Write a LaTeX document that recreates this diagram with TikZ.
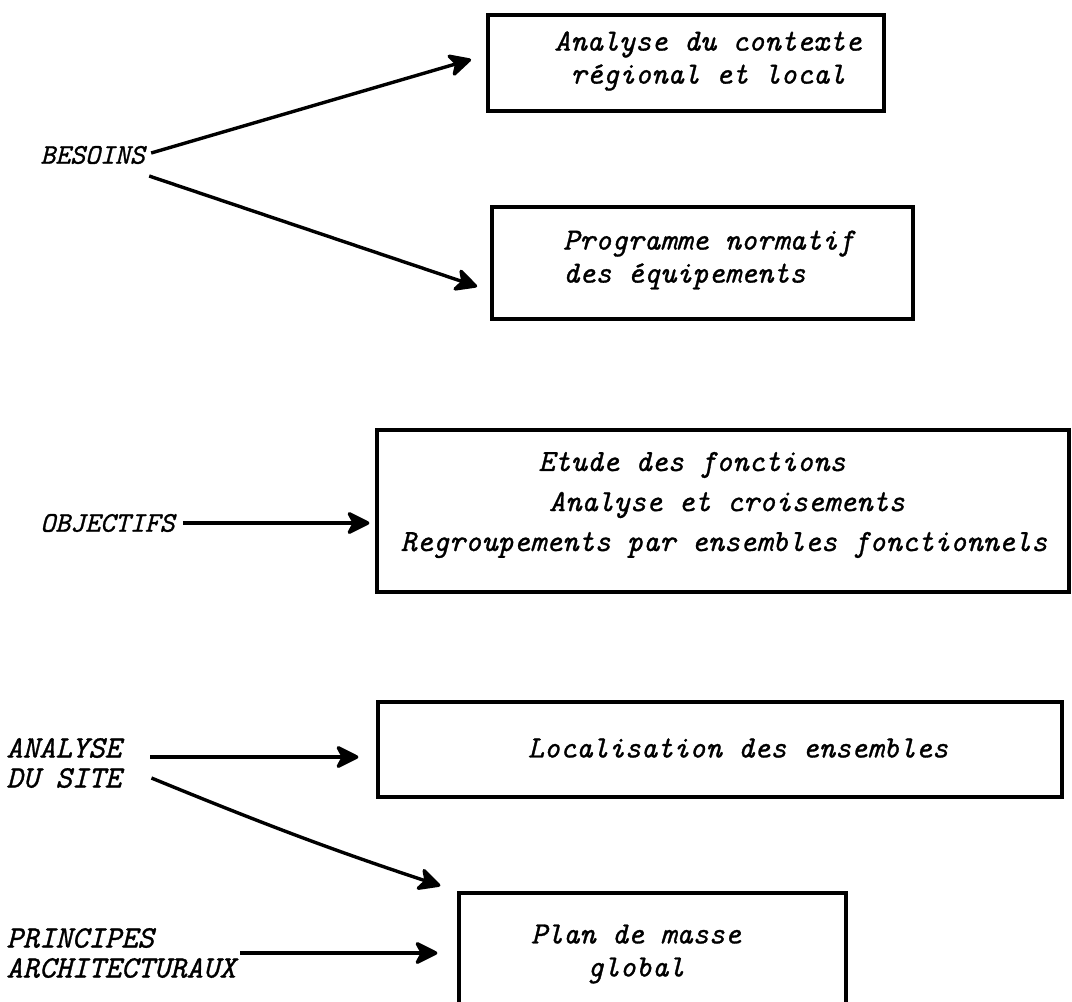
\documentclass[tikz,border=0pt]{standalone}
\usepackage{fontspec}
\newfontfamily\typewriter{Latin Modern Mono}[ItalicFeatures = {FakeBold = 1}]
\usetikzlibrary{arrows.meta}

\tikzset{
  box/.style = {draw, line width = 1.6pt, inner sep = 0pt},
  boxtext/.style = {font = \typewriter\itshape\fontsize{15.4}{16.5}\selectfont, align = center},
  side/.style = {font = \typewriter\itshape\fontsize{15.6}{15}\selectfont, inner sep = 2pt, anchor = west},
  small/.style = {font = \typewriter\itshape\fontsize{14.2}{15}\selectfont},
  link/.style = {line width = 1.7pt, -{Stealth[length = 13pt, width = 13pt, inset = 3.5pt, round]}}
}

\begin{document}
\begin{tikzpicture}[x = 0.5pt, y = -0.5pt]
  \useasboundingbox (0, 0) rectangle (1072, 1002);

  % Boxes
  \node [box, minimum width = 198pt, minimum height = 48pt] (ctx) at (686, 63) {};
  \node [box, minimum width = 210.5pt, minimum height = 56pt] (prog) at (702.5, 263) {};
  \node [box, minimum width = 346pt, minimum height = 81pt] (func) at (723, 511) {};
  \node [box, minimum width = 342pt, minimum height = 47.5pt] (loc) at (720, 749.5) {};
  \node [box, minimum width = 193.5pt, minimum height = 68.5pt] (plan) at (652.5, 961.5) {};

  % Texts in the boxes
  \node [boxtext] (ctxtext) at (708, 61) {Analyse du contexte\\régional et local};
  \node [boxtext, align = left, anchor = west] (progtext) at (556, 260) {Programme normatif\\des équipements};
  \node [boxtext] (etude) at (692, 465) {Etude des fonctions};
  \node [boxtext] (croise) at (727, 505) {Analyse et croisements};
  \node [boxtext] (regroupe) at (724, 545) {Regroupements par ensembles fonctionnels};
  \node [boxtext] (loctext) at (738, 748) {Localisation des ensembles};
  \node [boxtext] (plantext) at (636, 954) {Plan de masse\\global};

  % Inputs on the left
  \node [side, small] (besoins) at (36, 155) {BESOINS};
  \node [side, small] (objectifs) at (36, 523) {OBJECTIFS};
  \node [side, align = left] (site) at (2, 763) {ANALYSE\\DU SITE};
  \node [side, align = left] (principes) at (2, 953) {PRINCIPES\\ARCHITECTURAUX};

  % Arrows
  \draw [link, shorten > = 8pt] ([xshift = 1pt, yshift = 1pt]besoins.east) -- ([yshift = 4pt]ctx.west);
  \draw [link, shorten > = 7pt] ([yshift = -10.5pt]besoins.east) -- ([yshift = -14pt]prog.west);
  \draw [link, shorten < = 2pt, shorten > = 3pt] (objectifs.east) -- (objectifs.east -| func.west);
  \draw [link, shorten > = 9pt] ([xshift = 12.5pt, yshift = 3pt]site.east) -- ([yshift = 3pt]site.east -| loc.west);
  \draw [link, shorten > = 9pt] ([xshift = 13pt, yshift = -7.5pt]site.east) to [bend right = 2] (plan.north west);
  \draw [link, shorten > = 10pt] (principes.east) -- (principes.east -| plan.west);

\end{tikzpicture}
\end{document}
